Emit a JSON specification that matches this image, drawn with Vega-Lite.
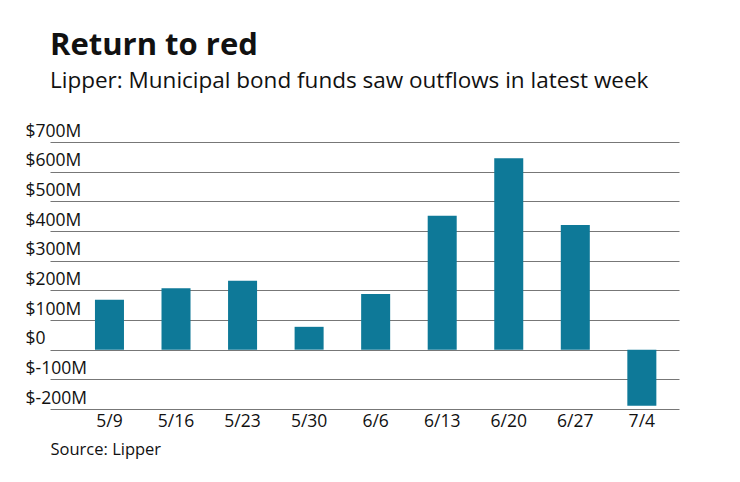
{
  "$schema": "https://vega.github.io/schema/vega-lite/v6.json",
  "autosize": "none",
  "width": 629,
  "height": 267,
  "padding": {"left": 50, "top": 142, "right": 61, "bottom": 73},
  "background": "white",
  "title": {
    "text": "Return to red",
    "subtitle": "Lipper: Municipal bond funds saw outflows in latest week",
    "anchor": "start",
    "frame": "group",
    "font": "Open Sans",
    "fontSize": 31,
    "fontWeight": "bold",
    "color": "#111111",
    "subtitleFont": "Open Sans",
    "subtitleFontSize": 22.5,
    "subtitleColor": "#111111",
    "subtitlePadding": 8,
    "offset": 29
  },
  "data": {
    "values": [
      {"week": "5/9", "flow": 168},
      {"week": "5/16", "flow": 207},
      {"week": "5/23", "flow": 232},
      {"week": "5/30", "flow": 77},
      {"week": "6/6", "flow": 188},
      {"week": "6/13", "flow": 451},
      {"week": "6/20", "flow": 645},
      {"week": "6/27", "flow": 420},
      {"week": "7/4", "flow": -189}
    ]
  },
  "mark": {"type": "bar", "color": "#0e7998"},
  "encoding": {
    "x": {
      "field": "week",
      "type": "ordinal",
      "sort": null,
      "scale": {"paddingInner": 0.564, "paddingOuter": 0.508, "align": 0.665},
      "axis": {
        "title": "Source: Lipper",
        "titleFont": "Open Sans",
        "titleFontSize": 16.5,
        "titleFontWeight": "normal",
        "titleColor": "#111111",
        "titleAnchor": "start",
        "titleAlign": "left",
        "titlePadding": 12,
        "labelAngle": 0,
        "labelFont": "Open Sans",
        "labelFontSize": 17.5,
        "labelColor": "#111111",
        "labelPadding": 3,
        "domain": false,
        "ticks": false,
        "grid": false
      }
    },
    "y": {
      "field": "flow",
      "type": "quantitative",
      "scale": {"domain": [-200, 700], "nice": false, "zero": false},
      "axis": {
        "title": null,
        "values": [-200, -100, 0, 100, 200, 300, 400, 500, 600, 700],
        "labelExpr": "datum.value == 0 ? '$0' : '$' + datum.value + 'M'",
        "labelFont": "Open Sans",
        "labelFontSize": 17.5,
        "labelColor": "#111111",
        "labelAlign": "left",
        "labelBaseline": "alphabetic",
        "labelOffset": -6,
        "labelPadding": 25,
        "tickSize": 0,
        "ticks": false,
        "domain": false,
        "grid": true,
        "gridColor": "#777777",
        "gridWidth": 1,
        "labelBound": false,
        "labelFlush": false,
        "labelOverlap": false
      }
    }
  },
  "config": {"view": {"stroke": null}}
}
